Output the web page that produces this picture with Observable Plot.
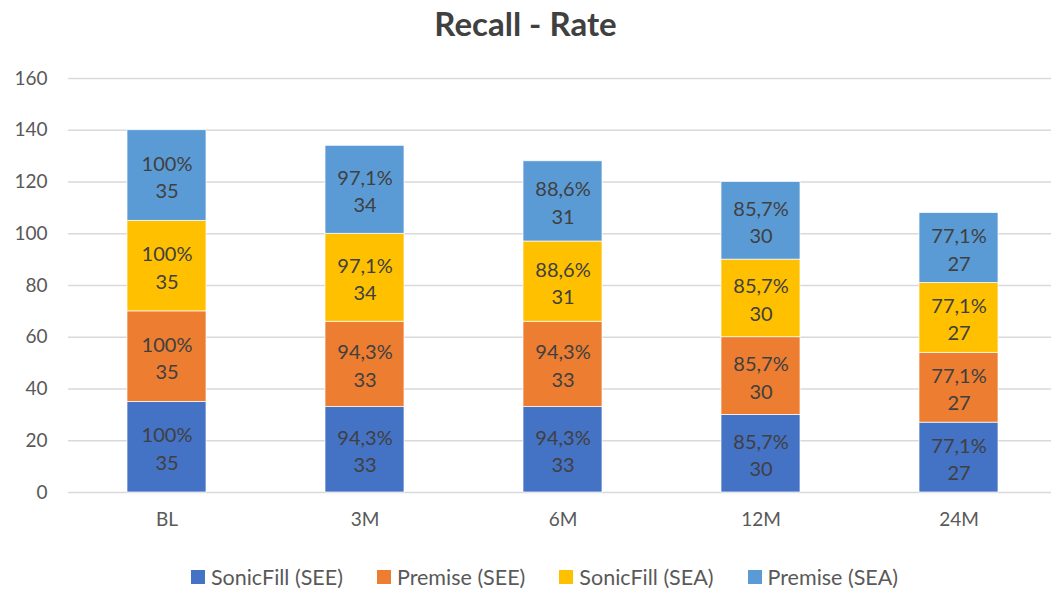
<!DOCTYPE html>
<html>
<head>
<meta charset="utf-8">
<script src="https://cdn.jsdelivr.net/npm/d3@7"></script>
<script src="https://cdn.jsdelivr.net/npm/@observablehq/plot@0.6"></script>
<style>
  html, body { margin: 0; padding: 0; background: #fff; width: 1051px; height: 590px; overflow: hidden; font-family: Lato, "Open Sans", sans-serif; }
  #title { height: 50px; line-height: 46px; text-align: center; font-size: 33px; font-weight: bold; color: #404040; }
  #chart svg { display: block; }
  #legend { display: flex; justify-content: center; gap: 34px; font-size: 21.5px; color: #595959; margin-top: 9px; padding-left: 38px; }
  #legend .item { display: flex; align-items: center; gap: 6px; }
  #legend .sw { width: 14px; height: 14px; display: inline-block; }
</style>
</head>
<body>
<div id="title">Recall - Rate</div>
<div id="chart"></div>
<div id="legend"></div>
<script>
const categories = ["BL", "3M", "6M", "12M", "24M"];
const series = ["SonicFill (SEE)", "Premise (SEE)", "SonicFill (SEA)", "Premise (SEA)"];
const colors = ["#4472C4", "#ED7D31", "#FFC000", "#5B9BD5"];
const sonicFillSEE = [35, 33, 33, 30, 27];
const premiseSEE   = [35, 33, 33, 30, 27];
const sonicFillSEA = [35, 34, 31, 30, 27];
const premiseSEA   = [35, 34, 31, 30, 27];
const pctSonicFillSEE = ["100%", "94,3%", "94,3%", "85,7%", "77,1%"];
const pctPremiseSEE   = ["100%", "94,3%", "94,3%", "85,7%", "77,1%"];
const pctSonicFillSEA = ["100%", "97,1%", "88,6%", "85,7%", "77,1%"];
const pctPremiseSEA   = ["100%", "97,1%", "88,6%", "85,7%", "77,1%"];
const yTicks = [0, 20, 40, 60, 80, 100, 120, 140, 160];

const values = [sonicFillSEE, premiseSEE, sonicFillSEA, premiseSEA];
const pcts = [pctSonicFillSEE, pctPremiseSEE, pctSonicFillSEA, pctPremiseSEA];
const data = [];
series.forEach((s, si) => {
  categories.forEach((c, ci) => {
    data.push({cat: c, series: s, value: values[si][ci], label: pcts[si][ci] + "\n" + values[si][ci]});
  });
});

const chart = Plot.plot({
  width: 1051,
  height: 505,
  marginLeft: 68,
  marginRight: 0,
  marginTop: 28,
  marginBottom: 63,
  style: {fontFamily: "Lato, 'Open Sans', sans-serif", fontSize: "19px", color: "#595959", background: "#fff"},
  x: {domain: categories, range: [68, 1058], paddingInner: 0.6, paddingOuter: 0.3, label: null},
  y: {domain: [0, 160], label: null},
  color: {domain: series, range: colors},
  marks: [
    Plot.gridY(yTicks, {stroke: "#d9d9d9", strokeOpacity: 1, strokeWidth: 1.3}),
    Plot.axisY(yTicks, {tickSize: 0, tickPadding: 21, fontSize: 19, fill: "#595959", label: null}),
    Plot.axisX({tickSize: 0, tickPadding: 20, fontSize: 19, fill: "#595959", label: null}),
    Plot.barY(data, Plot.stackY({x: "cat", y: "value", z: "series", fill: "series", order: series, stroke: "white", strokeWidth: 0.7})),
    Plot.text(data, Plot.stackY({x: "cat", y: "value", z: "series", order: series, text: "label", fontSize: 20, lineHeight: 1.38, fill: "#404040"}))
  ]
});
document.getElementById("chart").appendChild(chart);

const legend = document.getElementById("legend");
series.forEach((s, i) => {
  const item = document.createElement("div");
  item.className = "item";
  const sw = document.createElement("span");
  sw.className = "sw";
  sw.style.background = colors[i];
  item.appendChild(sw);
  const t = document.createElement("span");
  t.textContent = s;
  item.appendChild(t);
  legend.appendChild(item);
});
</script>
</body>
</html>
